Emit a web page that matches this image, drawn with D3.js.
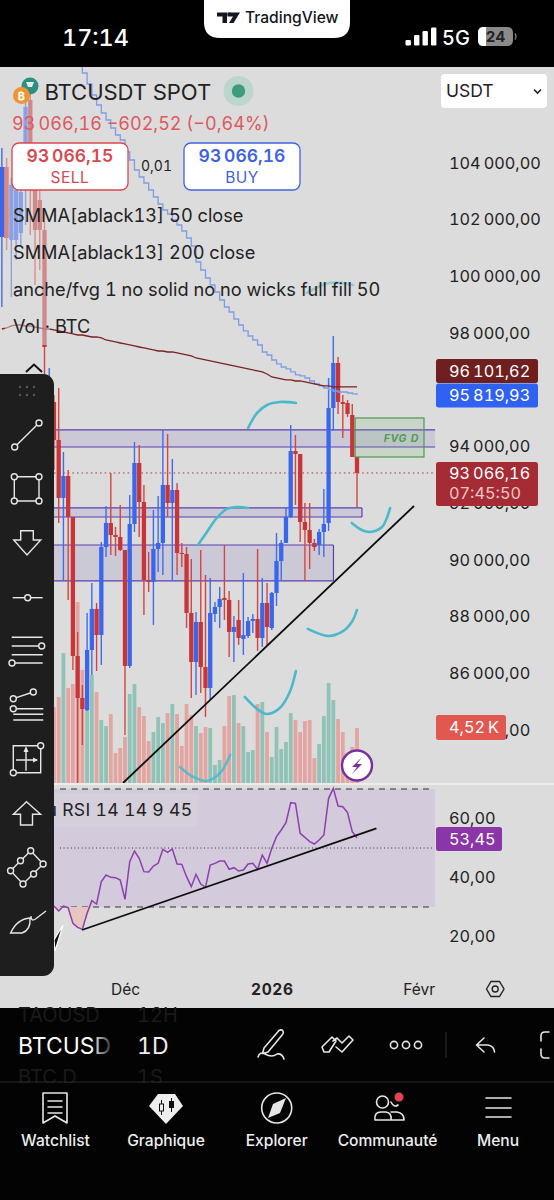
<!DOCTYPE html>
<html>
<head>
<meta charset="utf-8">
<title>BTCUSDT</title>
<script src="https://cdn.jsdelivr.net/npm/d3@7/dist/d3.min.js"></script>
<style>
html,body{margin:0;padding:0;background:#000;}
svg{display:block;}
text{font-family:Inter,"Noto Sans",sans-serif;font-variant-numeric:tabular-nums;}
</style>
</head>
<body>
<svg id="app" width="554" height="1200" xmlns="http://www.w3.org/2000/svg"></svg>
<script>
// Daily BTCUSDT candles, bar numbers run from -12 (off to the left) to 63 (latest)
const firstBar = -12;
const opens = [101390,103859,101284,101284,101531,103048,106222,103224,102695,101637,94230,95570,
94230,92185,92960,91514,86611,85131,84707,86823,88270,87352,90456,91303,90879,90808,90350,86259,91267,93419,92043,89292,89222,90385,90597,92643,92008,92467,90244,90209,88128,86400,87811,86223,85483,88093,88340,88657,88587,87458,87882,87211,87317,87846,87917,87246,88481,87599,88834,89962,90597,91514,93842,93736,91338,91056,90597,90526,90985,91303,95359,96946,95570,95535,95112,93630];
const highs = [104529,104176,103500,104176,103753,106222,107000,104459,103577,102342,96770,95817,
96064,93806,93172,91514,87458,85589,88128,89187,88481,90632,91902,93066,91162,91938,90350,92290,94160,94054,92643,90279,91761,92255,94583,94442,93560,92714,90597,90456,90033,88164,90350,89468,89362,88516,89045,90526,88904,88023,88587,89539,87987,88093,90385,89362,89187,88869,90950,90703,91832,94759,94407,93736,92008,92008,90738,91091,92502,96417,97898,97158,95817,95641,95500,93630];
const lows = [98921,100932,99274,100579,101108,101813,101461,99697,100226,94936,93877,93172,
91303,89292,88587,86118,82132,83472,84672,85941,86082,86294,90103,90174,90138,90315,83825,86188,90985,90808,88058,88869,87705,89574,89468,91514,89257,89468,89750,87599,85131,85236,85307,84460,85060,87811,87599,87882,86576,86400,87000,86647,87246,87423,86788,86929,87000,87529,88375,89292,90597,91479,91938,90632,89257,89680,90315,90174,90103,91021,94548,95147,94301,95041,93630,91867];
const closes = [103859,101355,103224,103048,102977,105975,103153,101637,101637,97510,95641,94230,
92185,92960,91514,86611,85131,84743,86823,88270,87352,90456,91303,90879,90808,90350,86259,91267,93419,92043,89292,89222,90385,90597,92643,92008,92467,90244,90209,88128,86400,87811,86223,85483,88128,88340,88622,88587,87458,87634,87246,87352,87846,87917,87246,88481,87634,88834,89962,90597,91514,93842,93736,91338,91056,90597,90456,90985,91267,95359,96946,95570,95500,95147,93630,93066.16];

// Volume in thousands of BTC, starting at bar -1
const firstVolumeBar = -1;
const volumes = [6.24,7.07,10.68,7.81,8.13,14.87,9.29,6.24,8.87,7.48,5.18,4.68,5.67,2.47,2.88,3.78,7.31,8.13,6.24,5.51,3.45,4.19,5.42,4.93,5.75,6.49,5.67,3.04,6.49,5.59,4.68,4.11,4.60,4.52,1.48,1.89,4.68,7.15,7.23,4.93,4.68,2.55,2.71,6.49,6.66,4.19,2.14,4.60,2.79,3.37,5.75,5.18,4.19,5.09,5.18,2.05,3.20,5.51,8.22,6.82,5.26,4.19,2.14,2.96,4.52];

// Smoothed moving averages, one value per bar
const firstSmma50Bar = 4;
const smma50 = [107421,107174,106786,106398,106046,105763,105517,105235,104988,104811,104388,104106,103753,103506,103295,103048,102801,102554,102342,102201,101990,101813,101602,101355,101073,100508,100226,99944,99697,99450,99168,98921,98745,98498,98286,98075,97898,97757,97581,97334,97228,97052,96911,96805,96735,96629,96523,96488,96417,96311,96205,96135,96064,95994,95958,95923,95923,95888,95853,95819.93];
const firstSmma200Bar = -12;
const smma200 = [98145,98180,98251,98286,98286,98251,98251,98215,98180,98145,98145,98110,
98074,98039,98004,97969,97933,97933,97898,97863,97863,97828,97757,97722,97687,97651,97616,97581,97546,97510,97475,97440,97405,97369,97369,97334,97334,97299,97264,97228,97193,97122,97087,97052,97017,96981,96946,96911,96876,96840,96805,96770,96735,96699,96664,96629,96558,96453,96417,96382,96347,96347,96311,96311,96276,96241,96205,96170,96135,96135,96101.62,96101.62,96101.62,96101.62,96101.62,96101.62];

// RSI, starting at bar -1
const firstRsiBar = -1;
const rsi = [30.34,28.64,30.34,29.77,24.46,23.11,22.43,27.85,32.15,31.02,38.59,40.85,40.06,39.94,39.15,32.60,45.37,48.98,46.50,41.98,41.86,43.90,44.80,49.55,48.53,49.66,44.57,44.46,40.28,36.89,41.07,37.80,36.67,44.24,44.80,45.59,45.59,42.77,43.33,42.20,42.54,44.57,44.80,42.77,47.63,44.80,49.89,53.84,56.10,58.59,65.37,65.14,54.97,53.62,52.15,51.36,52.71,54.41,66.84,70.23,64.24,64.01,61.98,55.54,53.45];

// Drawn zones: top price, bottom price, bar where each stops
const zoneTops = [94583,91832,90526];
const zoneBottoms = [93983,91514,89257];
const zoneEnds = [79.5,64.05,58.03];
const zoneLeftBar = -1;

// Fair value gap box
const fvgBars = [62.6,77.15];
const fvgPrices = [95006,93630];

// Trend lines as bar / value pairs
const priceTrendBars = [13.58,75.04];
const priceTrendValues = [82132,91902];
const rsiTrendBars = [4.9,67.1];
const rsiTrendValues = [22.2,56.66];

// Freehand strokes on the chart, as bar / price pairs
const sketchBars = [
  [40,41.9,44,46.7,50.1],
  [29.4,31.3,33.4,35.5,37.7,40],
  [61.9,64,65.7,68.3,69.3,70],
  [52.6,56.9,59.8,61.9,63],
  [39.3,41.9,44,46.7,48.8,50.1],
  [25.6,28.4,31.3,34.1,36.2],
  [52.4,57.1,62.2]
];
const sketchPrices = [
  [94654,95183,95465,95570,95535],
  [90527,90985,91479,91797,91867,91832],
  [91303,91056,90985,91162,91479,91832],
  [87565,87318,87459,87811,88234],
  [85166,84743,84565,84777,85342,86083],
  [82697,82345,82204,82486,83121],
  [99415,99768,99697]
];

const priceTicks = [104000,102000,100000,98000,94000,92000,90000,88000,86000,84000];
const rsiTicks = [60,40,20];
const rsiBands = [70,50,30];
const timeTicks = [14,45,76];
const timeLabels = ["Déc","2026","Févr"];
const legendRows = ["SMMA[ablack13] 50 close","SMMA[ablack13] 200 close","anche/fvg 1 no solid no no wicks full fill 50","Vol · BTC"];
const tabLabels = ["Watchlist","Graphique","Explorer","Communauté","Menu"];

const lastChange = -602.52;
const lastChangePct = -0.64;
const sellPrice = 93066.15;
const buyPrice = 93066.16;
const spread = 0.01;

const BG = "#dcdcdc";
const RED = "#c73538";
const RED_WICK = "#d4453f";
const BLUE = "#3a66ec";
const BLUE_WICK = "#3f6cec";
const VOL_RED = "#e2a5a1";
const VOL_GREEN = "#8fc3b7";
const ZONE = "#5a3fb5";
const SKETCH = "#4cb9cb";
const INK = "#222";

const locale = d3.formatLocale({decimal:",",thousands:"\u202f",grouping:[3],currency:["",""],minus:"\u2212"});
const money = locale.format(",.2f");
const plain = locale.format(".2f");

const x = d3.scaleLinear().domain([0,63]).range([58.7,357]);
const y = d3.scaleLinear().domain([104000,86000]).range([163,673.3]);
const volY = d3.scaleLinear().domain([0,4.52]).range([783,728]);
const rsiY = d3.scaleLinear().domain([60,20]).range([818.5,936.5]);

const svg = d3.select("#app");
const defs = svg.append("defs");
defs.append("clipPath").attr("id","price-pane").append("rect").attr("x",0).attr("y",67).attr("width",554).attr("height",716);
const fade = defs.append("linearGradient").attr("id","symbol-fade");
fade.append("stop").attr("offset","0.78").attr("stop-color","#fff");
fade.append("stop").attr("offset","1").attr("stop-color","#333");

svg.append("rect").attr("width",554).attr("height",1200).attr("fill",BG);

const pane = svg.append("g").attr("clip-path","url(#price-pane)");

// Volume columns
const candleBars = d3.range(opens.length).map(i => i + firstBar);
const isUp = bar => closes[bar-firstBar] >= opens[bar-firstBar];
const volBars = volumes.map((v,i) => ({bar:i+firstVolumeBar, v}));
pane.append("g").selectAll("rect").data(volBars).join("rect")
  .attr("x", d => x(d.bar)-1.9)
  .attr("width",3.8)
  .attr("y", d => volY(d.v))
  .attr("height", d => volY(0)-volY(d.v))
  .attr("fill", d => isUp(d.bar) ? VOL_GREEN : VOL_RED);

// Zones
const zones = pane.append("g");
zoneTops.forEach((top,k) => {
  const x0 = x(zoneLeftBar), x1 = x(zoneEnds[k]);
  zones.append("rect").attr("x",x0).attr("y",y(top)).attr("width",x1-x0).attr("height",y(zoneBottoms[k])-y(top)).attr("fill","#5a3fb5").attr("fill-opacity",0.12);
  [top,zoneBottoms[k]].forEach(p => zones.append("line").attr("x1",x0).attr("x2",x1).attr("y1",y(p)).attr("y2",y(p)).attr("stroke",ZONE).attr("stroke-width",1.2));
  if (k > 0) zones.append("line").attr("x1",x1).attr("x2",x1).attr("y1",y(top)).attr("y2",y(zoneBottoms[k])).attr("stroke",ZONE).attr("stroke-width",1.2);
});

// Last price line
const lastClose = closes[closes.length-1];
pane.append("line").attr("x1",54).attr("x2",435).attr("y1",y(lastClose)).attr("y2",y(lastClose))
  .attr("stroke","#b8353a").attr("stroke-width",1).attr("stroke-dasharray","1.6 3");

// Candles
const candles = pane.append("g").selectAll("g").data(candleBars).join("g");
candles.append("line")
  .attr("x1",d=>x(d)).attr("x2",d=>x(d))
  .attr("y1",d=>y(highs[d-firstBar])).attr("y2",d=>y(lows[d-firstBar]))
  .attr("stroke",d=>isUp(d)?BLUE_WICK:RED_WICK).attr("stroke-width",1.4);
candles.append("rect")
  .attr("x",d=>x(d)-2.15).attr("width",4.3)
  .attr("y",d=>y(Math.max(opens[d-firstBar],closes[d-firstBar])))
  .attr("height",d=>Math.max(1,Math.abs(y(opens[d-firstBar])-y(closes[d-firstBar]))))
  .attr("fill",d=>isUp(d)?BLUE:RED);

// Moving averages
const smmaLine = d3.line().x(d=>x(d[0])).y(d=>y(d[1]));
pane.append("path").datum(smma50.map((v,i)=>[i+firstSmma50Bar,v]))
  .attr("d",smmaLine.curve(d3.curveStepAfter)).attr("fill","none").attr("stroke","#7f9ce6").attr("stroke-width",1.3);
pane.append("path").datum(smma200.slice(0,76).map((v,i)=>[i+firstSmma200Bar,v]))
  .attr("d",smmaLine.curve(d3.curveLinear)).attr("fill","none").attr("stroke","#7a2226").attr("stroke-width",1.3);

// Fair value gap
pane.append("rect").attr("x",x(fvgBars[0])).attr("y",y(fvgPrices[0]))
  .attr("width",x(fvgBars[1])-x(fvgBars[0])).attr("height",y(fvgPrices[1])-y(fvgPrices[0]))
  .attr("fill","#6fb56f").attr("fill-opacity",0.18).attr("stroke","#4f9a50").attr("stroke-width",1.2);
pane.append("text").attr("x",x(fvgBars[1])-5).attr("y",y(fvgPrices[0])+24).attr("text-anchor","end")
  .attr("font-size",10.5).attr("font-weight",700).attr("font-style","italic").attr("letter-spacing",0.7).attr("fill","#529c55").text("FVG D");

// Trend line
pane.append("line").attr("x1",x(priceTrendBars[0])).attr("y1",y(priceTrendValues[0]))
  .attr("x2",x(priceTrendBars[1])).attr("y2",y(priceTrendValues[1])).attr("stroke","#0c0c0c").attr("stroke-width",1.8);

// Freehand strokes
const sketchLine = d3.line().x(d=>x(d[0])).y(d=>y(d[1])).curve(d3.curveCatmullRom);
sketchBars.forEach((bars,k)=>{
  pane.append("path").datum(bars.map((b,j)=>[b,sketchPrices[k][j]]))
    .attr("d",sketchLine).attr("fill","none").attr("stroke",SKETCH).attr("stroke-width",2.6)
    .attr("stroke-linecap","round").attr("opacity",k===6?0.5:k===5?0.85:1);
});

// Veil behind the legend rows
svg.append("rect").attr("x",5).attr("y",67).attr("width",45).attr("height",278).attr("fill",BG).attr("opacity",0.5);

// Pane divider
svg.append("rect").attr("x",0).attr("y",783).attr("width",554).attr("height",2).attr("fill","#ececec");

// RSI pane
const rsiPane = svg.append("g");
rsiPane.append("rect").attr("x",54).attr("y",rsiY(70)).attr("width",381).attr("height",rsiY(30)-rsiY(70)).attr("fill","#d3cadb");
rsiBands.forEach(level=>{
  rsiPane.append("line").attr("x1",60).attr("x2",433).attr("y1",rsiY(level)).attr("y2",rsiY(level))
    .attr("stroke","#333").attr("stroke-width",1).attr("stroke-dasharray",level===50?"1 2.6":"6 5");
});
const rsiPoints = rsi.map((v,i)=>[i+firstRsiBar,v]);
rsiPane.append("path").datum(rsiPoints)
  .attr("d",d3.area().x(d=>x(d[0])).y0(rsiY(30)).y1(d=>rsiY(Math.min(d[1],30))))
  .attr("fill","#e7c6c2");
rsiPane.append("rect").attr("x",54).attr("y",793).attr("width",144).attr("height",34).attr("fill",BG).attr("opacity",0.3);
rsiPane.append("text").attr("x",46.5).attr("y",815.5).attr("font-size",17.6).attr("letter-spacing",0.3).attr("fill",INK).text("u RSI 14 14 9 45");
rsiPane.append("path").datum(rsiPoints)
  .attr("d",d3.line().x(d=>x(d[0])).y(d=>rsiY(d[1]))).attr("fill","none").attr("stroke","#8e3fae").attr("stroke-width",1.5);
rsiPane.append("line").attr("x1",x(rsiTrendBars[0])).attr("y1",rsiY(rsiTrendValues[0]))
  .attr("x2",x(rsiTrendBars[1])).attr("y2",rsiY(rsiTrendValues[1])).attr("stroke","#0c0c0c").attr("stroke-width",1.8);

// Axes
const AXIS_FONT = 16.3;
const priceAxis = svg.append("g").attr("transform","translate(449,0)")
  .call(d3.axisRight(y).tickValues(priceTicks).tickSize(0).tickPadding(0).tickFormat(money));
priceAxis.select(".domain").remove();
const rsiAxis = svg.append("g").attr("transform","translate(449,0)")
  .call(d3.axisRight(rsiY).tickValues(rsiTicks).tickSize(0).tickPadding(0).tickFormat(plain));
rsiAxis.select(".domain").remove();
const timeAxis = svg.append("g").attr("transform","translate(0,983.5)")
  .call(d3.axisBottom(x).tickValues(timeTicks).tickSize(0).tickPadding(0).tickFormat((d,i)=>timeLabels[i]));
timeAxis.select(".domain").remove();
timeAxis.selectAll("text").attr("font-weight",(d,i)=>i===1?700:400).attr("letter-spacing",(d,i)=>i===1?0.6:0);
[priceAxis,rsiAxis,timeAxis].forEach(a=>a.selectAll("text").attr("font-size",AXIS_FONT).attr("font-family","Inter, sans-serif").attr("fill",INK));
timeAxis.selectAll("text").attr("font-size",15.5);

// Price tags on the axis
function tag(x0,y0,w,h,fill,rows){
  svg.append("rect").attr("x",x0).attr("y",y0).attr("width",w).attr("height",h).attr("rx",2.5).attr("fill",fill);
  rows.forEach(r=>svg.append("text").attr("x",449).attr("y",r.y).attr("font-size",AXIS_FONT).attr("fill",r.fill||"#fff").text(r.text));
}
tag(436,359,102,24,"#701f20",[{y:376.5,text:money(smma200[smma200.length-1])}]);
tag(436,383.5,102,24,"#2f62f2",[{y:401,text:money(smma50[smma50.length-1])}]);
tag(436,462,102,44,"#a52b34",[{y:479,text:money(lastClose)},{y:499,text:"07:45:50",fill:"#f0c4c4"}]);
tag(436,827,66,24,"#8a35a8",[{y:844.5,text:plain(rsi[rsi.length-1])}]);
tag(436,715,70,25,"#e0584f",[{y:733,text:plain(volumes[volumes.length-1])+"\u202fK"}]);

// Settings icon by the time axis
svg.append("path").attr("d","M486.5 989 L491 981.5 L499.5 981.5 L504 989 L499.5 996.5 L491 996.5 Z").attr("fill","none").attr("stroke",INK).attr("stroke-width",1.4);
svg.append("circle").attr("cx",495.2).attr("cy",989).attr("r",3).attr("fill","none").attr("stroke",INK).attr("stroke-width",1.4);

// Alert badge in the volume area
svg.append("circle").attr("cx",357).attr("cy",765.5).attr("r",15).attr("fill","#fff").attr("stroke","#7b2ea0").attr("stroke-width",2.4);
svg.append("path").attr("d","M362 757 L352 767 L357 767 L352 774 L362 764 L357 764 Z").attr("fill","#7b2ea0");

// Legend text
const symbolRow = svg.append("g");
symbolRow.append("circle").attr("cx",30).attr("cy",86).attr("r",8.5).attr("fill","#2d8f80");
symbolRow.append("path").attr("d","M26 82 L34 82 L32 87 L28 87 Z").attr("fill","#dff1ee");
symbolRow.append("circle").attr("cx",21.5).attr("cy",95.5).attr("r",8.5).attr("fill","#ee9533");
symbolRow.append("text").attr("x",21.5).attr("y",99.5).attr("text-anchor","middle").attr("font-size",11).attr("font-weight",700).attr("fill","#fff").text("₿");
symbolRow.append("text").attr("x",44.5).attr("y",99.5).attr("font-size",22.1).attr("letter-spacing",-0.1).attr("fill",INK).text("BTCUSDT SPOT");
symbolRow.append("circle").attr("cx",238.5).attr("cy",91).attr("r",15).attr("fill","#bcd6cd");
symbolRow.append("circle").attr("cx",238.5).attr("cy",91).attr("r",6.7).attr("fill","#3f9a80");

svg.append("rect").attr("x",441).attr("y",74).attr("width",106).attr("height",34).attr("rx",4).attr("fill","#fff");
svg.append("text").attr("x",446).attr("y",97).attr("font-size",17.5).attr("fill",INK).text("USDT");
svg.append("path").attr("d","M534 89.5 L537.5 93 L541 89.5").attr("fill","none").attr("stroke",INK).attr("stroke-width",1.6);

svg.append("text").attr("x",12).attr("y",130).attr("font-size",18).attr("fill","#dc5a60")
  .text(`${money(lastClose)} ${money(lastChange)} (${plain(lastChangePct)}%)`);

function tradeBox(x0,color,priceText,label){
  svg.append("rect").attr("x",x0).attr("y",143).attr("width",116).attr("height",47).attr("rx",7).attr("fill","#fff").attr("stroke",color).attr("stroke-width",1.3);
  svg.append("text").attr("x",x0+58).attr("y",162).attr("text-anchor","middle").attr("font-size",17.5).attr("font-weight",600).attr("fill",color).text(priceText);
  svg.append("text").attr("x",x0+58).attr("y",182.5).attr("text-anchor","middle").attr("font-size",15.5).attr("letter-spacing",0.5).attr("fill",color).text(label);
}
tradeBox(12,"#d8484f",money(sellPrice),"SELL");
tradeBox(184,"#3f63e0",money(buyPrice),"BUY");
svg.append("text").attr("x",141).attr("y",171).attr("font-size",14).attr("fill",INK).text(plain(spread));

svg.selectAll(".legend-row").data(legendRows).join("text").attr("class","legend-row")
  .attr("x",13).attr("y",(d,i)=>221.5+i*37).attr("font-size",18.2).attr("fill",INK).text(d=>d);

svg.append("path").attr("d","M26 372 L34 364.5 L42 372").attr("fill","none").attr("stroke","#111").attr("stroke-width",2);

// Drawing toolbar
const tb = svg.append("g");
tb.append("path").attr("d","M54 940 L63 925 L55 951 Z").attr("fill","#111").attr("stroke","#fff").attr("stroke-width",1.2);
tb.append("rect").attr("x",-12).attr("y",374).attr("width",66).attr("height",602).attr("rx",11).attr("fill","#1e1e1e");
const tool = tb.append("g").attr("fill","none").attr("stroke","#e6e6e6").attr("stroke-width",1.4);
const toolPath = d => tool.append("path").attr("d",d);
const node = (cx,cy) => tool.append("circle").attr("cx",cx).attr("cy",cy).attr("r",3).attr("fill","#1e1e1e");
[[20,387],[27,387],[34,387],[20,395],[27,395],[34,395]].forEach(p=>tb.append("circle").attr("cx",p[0]).attr("cy",p[1]).attr("r",1.2).attr("fill","#5a5a5a"));
toolPath("M14.7 447 L39 423"); node(14.7,447); node(39,423);
toolPath("M14.3 476.7 H39 V501 H14.3 Z"); [[14.3,476.7],[39,476.7],[14.3,501],[39,501]].forEach(p=>node(p[0],p[1]));
toolPath("M20.7 530.7 H33.3 V540 H40.7 L27 555 L13.7 540 H20.7 Z");
toolPath("M12.7 597.7 H42.7"); node(27.7,597.7);
toolPath("M11.7 637.3 H42.7 M11.7 646 H38.5 M11.7 654.7 H42.7 M15 663 H42.7"); node(41.7,646); node(12,663);
toolPath("M13.3 698.7 L33.3 692 M16.5 708.7 H43.3 M13.3 714.3 H43.3 M13.3 720 H43.3"); node(13.3,698.7); node(13.3,708.7); node(33.3,692);
toolPath("M13.3 745.7 H40.7 V772.7 H13.3 Z M16 760 H37 M26 770.7 V749"); node(40.7,745.7); node(13.3,772.7);
tb.append("path").attr("d","M26 746 L23.5 752 H28.5 Z M38 760 L33 757.5 V762.5 Z").attr("fill","#e6e6e6");
toolPath("M26.5 801.7 L40.6 814.3 H32.5 V825 H20.5 V814.3 H13.4 Z");
toolPath("M30.7 850.7 L10.6 870.7 L23 884 L43.1 864 Z");
[[30.7,850.7],[20.5,860.7],[10.6,870.7],[23,884],[33.6,874],[43.1,864]].forEach(p=>node(p[0],p[1]));
toolPath("M10.6 933 Q17 919 30 918 Q31 930 22 933 Z M31 916 Q31 922 35.5 919 L46 911");

// Status bar
const status = svg.append("g");
status.append("rect").attr("width",554).attr("height",67).attr("fill","#000");
status.append("path").attr("d","M204 0 H350 V22 Q350 38 334 38 H220 Q204 38 204 22 Z").attr("fill","#fff");
status.append("path").attr("d","M217 12.5 H227 V23 H222.5 V16.5 H217 Z M227.5 12.5 H240 L233.5 23 H229 L233 16.5 H227.5 Z M228.5 12.5").attr("fill","#131722");
status.append("circle").attr("cx",229.5).attr("cy",14.3).attr("r",1.9).attr("fill","#131722");
status.append("text").attr("x",245).attr("y",23).attr("font-size",15.6).attr("font-weight",500).attr("fill","#131722").text("TradingView");
status.append("text").attr("x",62).attr("y",46).attr("font-size",23.4).attr("font-weight",500).attr("fill","#fff").text("17:14");
[[405.5,40],[414,35],[422.5,31],[431,27.5]].forEach(b=>status.append("rect").attr("x",b[0]).attr("y",b[1]).attr("width",5.4).attr("height",45.5-b[1]).attr("rx",1.2).attr("fill","#fff"));
status.append("text").attr("x",442).attr("y",44.5).attr("font-size",20).attr("font-weight",500).attr("fill","#fff").text("5G");
status.append("rect").attr("x",478).attr("y",27).attr("width",35).attr("height",19).attr("rx",5.5).attr("fill","#8a8a8a");
status.append("path").attr("d","M483.5 27 H486 V46 H483.5 Q478 46 478 40.5 V32.5 Q478 27 483.5 27 Z").attr("fill","#fff");
status.append("path").attr("d","M515 33.5 Q517 36.5 515 39.5").attr("fill","none").attr("stroke","#777").attr("stroke-width",1.5);
status.append("text").attr("x",495.5).attr("y",42).attr("text-anchor","middle").attr("font-size",15).attr("font-weight",700).attr("fill","#222").text("24");

// Bottom bars
const bottom = svg.append("g");
bottom.append("rect").attr("y",1008).attr("width",554).attr("height",192).attr("fill","#030303");
bottom.append("text").attr("x",18).attr("y",1022).attr("font-size",20).attr("fill","#1a1a1a").text("TAOUSD");
bottom.append("text").attr("x",137).attr("y",1022).attr("font-size",20).attr("fill","#1a1a1a").text("12H");
bottom.append("text").attr("x",18).attr("y",1084).attr("font-size",20).attr("fill","#1a1a1a").text("BTC.D");
bottom.append("text").attr("x",137).attr("y",1084).attr("font-size",20).attr("fill","#1a1a1a").text("1S");
bottom.append("rect").attr("y",1081.5).attr("width",554).attr("height",1).attr("fill","#2a2a2a");
bottom.append("rect").attr("y",1083).attr("width",554).attr("height",9).attr("fill","#030303");
bottom.append("text").attr("x",18).attr("y",1054).attr("font-size",23).attr("fill","url(#symbol-fade)").text("BTCUSD");
bottom.append("text").attr("x",137).attr("y",1054).attr("font-size",23).attr("fill","#eee").text("1D");

const ic = bottom.append("g").attr("fill","none").attr("stroke","#e6e6e6").attr("stroke-width",1.6).attr("stroke-linecap","round").attr("stroke-linejoin","round");
ic.append("path").attr("d","M264 1048 L279 1030.5 Q281.5 1029 283 1031 Q284 1033 282.5 1034.5 L268 1052 L262.5 1053.5 Z M258 1057 Q260 1051 265 1054 Q272 1058 277 1054 Q282 1053 284 1059");
ic.append("path").attr("d","M322 1047 L332 1037 L336 1041 L329 1052 L324 1052 Z M336 1047 L342 1052 L353 1040 L349 1036 L342 1043 L337 1038 L333 1041");
[394,406,418].forEach(cx=>ic.append("circle").attr("cx",cx).attr("cy",1045).attr("r",3.6));
bottom.append("line").attr("x1",446).attr("x2",446).attr("y1",1032).attr("y2",1058).attr("stroke","#333");
ic.append("path").attr("d","M484 1038 L476.5 1045 L484 1052 M476.5 1045 H488 Q494 1046 494.5 1052");
ic.append("path").attr("d","M549 1032 H545 Q541 1032 541 1036 V1041 M541 1049 V1054 Q541 1058 545 1058 H549");
// Watchlist
ic.append("path").attr("d","M43 1093 H67 V1123 L55 1116 L43 1123 Z M48 1101 H62 M48 1107 H62 M48 1113 H62");
// Chart tab
bottom.append("path").attr("d","M158 1094 H175 L183 1106 L166 1124 L149 1106 Z").attr("fill","#eee");
bottom.append("path").attr("d","M161.5 1100 V1115 M171.5 1098 V1112").attr("stroke","#111").attr("stroke-width",1);
bottom.append("rect").attr("x",159.5).attr("y",1104).attr("width",4).attr("height",7).attr("fill","#eee").attr("stroke","#111");
bottom.append("rect").attr("x",169).attr("y",1101).attr("width",5).attr("height",7).attr("fill","#111");
// Explore tab
ic.append("circle").attr("cx",276.7).attr("cy",1108).attr("r",15);
bottom.append("path").attr("d","M286 1098 L280 1113 L268 1118 L273 1104 Z").attr("fill","#e6e6e6");
// Community tab
ic.append("circle").attr("cx",382.5).attr("cy",1102).attr("r",6);
ic.append("path").attr("d","M375 1120 Q374 1112 381 1112 H386 Q392 1113 391 1120 Z M391 1112 H397 Q404 1113 404 1120 H391 M391 1102 Q394 1108 398 1105");
bottom.append("circle").attr("cx",399).attr("cy",1097).attr("r",4.5).attr("fill","#e3434e");
// Menu tab
ic.append("path").attr("d","M486 1098 H511 M486 1108 H511 M486 1117 H511");

const tabCenters = [55.5,166,276.7,387.6,498];
bottom.selectAll(".tab").data(tabLabels).join("text").attr("class","tab")
  .attr("x",(d,i)=>tabCenters[i]).attr("y",1146).attr("text-anchor","middle").attr("font-size",15.6).attr("font-weight",500).attr("fill","#eee").text(d=>d);
</script>
</body>
</html>
